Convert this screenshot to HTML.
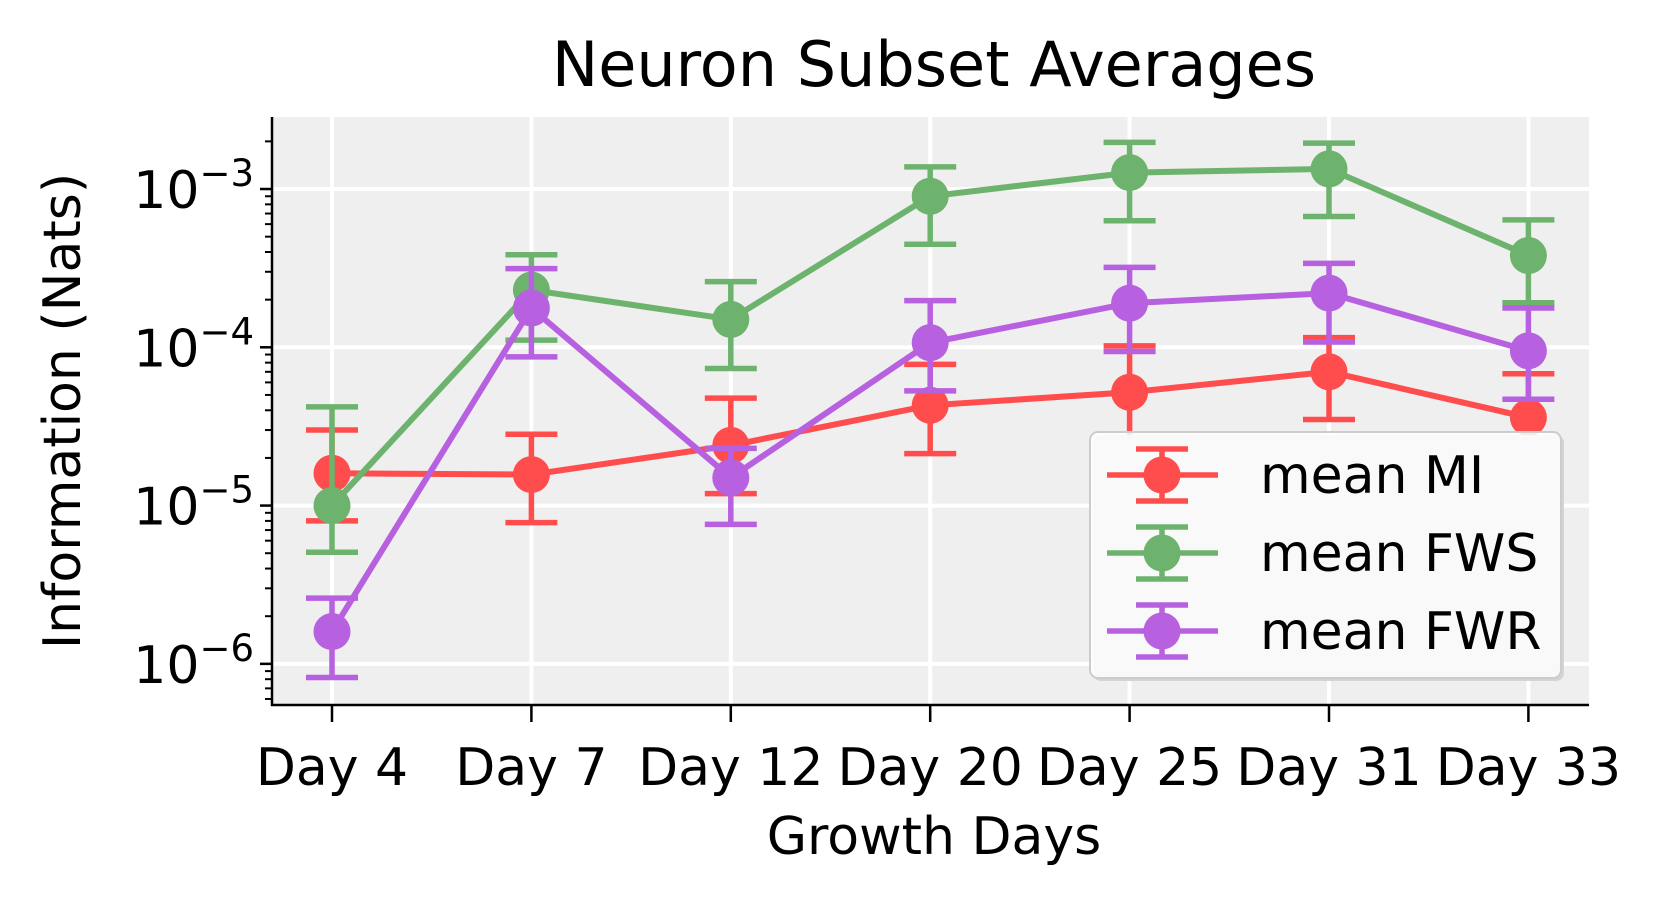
<!DOCTYPE html>
<html><head><meta charset="utf-8"><style>
html,body{margin:0;padding:0;background:#fff;}
svg{display:block;font-family:"DejaVu Sans","Liberation Sans",sans-serif;}
</style></head><body>
<svg id="chart" width="1660" height="900" viewBox="0 0 1660 900">
<rect x="0" y="0" width="1660" height="900" fill="#fff"/>
<rect id="plotbg" x="272" y="117" width="1317" height="588" fill="#efefef"/>
<g id="grid"></g>
<g id="series"></g>
<g id="axes"></g>
<text x="934" y="86" font-size="62" text-anchor="middle">Neuron Subset Averages</text>
<text x="934" y="854" font-size="52" text-anchor="middle">Growth Days</text>
<text transform="translate(80,411) rotate(-90)" font-size="52" text-anchor="middle">Information (Nats)</text>
<g id="legend"></g>
</svg>
<script>
const categories = ["Day 4","Day 7","Day 12","Day 20","Day 25","Day 31","Day 33"];
const seriesNames = ["mean MI","mean FWS","mean FWR"];
const miValues = [1.6e-5,1.57e-5,2.4e-5,4.3e-5,5.2e-5,7.0e-5,3.6e-5];
const miLow = [8.0e-6,7.8e-6,1.19e-5,2.13e-5,2.65e-5,3.5e-5,1.83e-5];
const miHigh = [3.0e-5,2.82e-5,4.77e-5,7.8e-5,1.02e-4,1.15e-4,6.8e-5];
const fwsValues = [1.0e-5,2.3e-4,1.5e-4,9.0e-4,1.27e-3,1.34e-3,3.8e-4];
const fwsLow = [5.07e-6,1.11e-4,7.35e-5,4.48e-4,6.3e-4,6.7e-4,1.91e-4];
const fwsHigh = [4.2e-5,3.84e-4,2.6e-4,1.38e-3,1.97e-3,1.95e-3,6.38e-4];
const fwrValues = [1.6e-6,1.77e-4,1.5e-5,1.07e-4,1.9e-4,2.2e-4,9.5e-5];
const fwrLow = [8.2e-7,8.7e-5,7.6e-6,5.3e-5,9.4e-5,1.08e-4,4.7e-5];
const fwrHigh = [2.6e-6,3.14e-4,2.3e-5,1.97e-4,3.2e-4,3.39e-4,1.77e-4];
const yTickExps = [-6,-5,-4,-3];

const NS="http://www.w3.org/2000/svg";
const L=272,R=1589,T=117,B=705;
const yMinLog=-6.26,yMaxLog=-2.545;
function xScale(i){return 332+i*199.4;}
function yScale(v){const lg=Math.log10(v);return B-(lg-yMinLog)/(yMaxLog-yMinLog)*(B-T);}
function mk(tag,attrs,parent){const e=document.createElementNS(NS,tag);for(const k in attrs)e.setAttribute(k,attrs[k]);parent.appendChild(e);return e;}
const grid=document.getElementById('grid'),axes=document.getElementById('axes'),ser=document.getElementById('series'),leg=document.getElementById('legend');

categories.forEach((c,i)=>{
  const x=xScale(i);
  const g=mk('line',{x1:x,x2:x,y1:T,y2:B,stroke:'#fff','stroke-width':4},grid);
  
  
  const t=mk('line',{x1:x,x2:x,y1:B,y2:B+17,stroke:'#000','stroke-width':2.5},axes);
  
  
  const lb=mk('text',{x:x,y:785,'font-size':52,'text-anchor':'middle'},axes);
  lb.textContent=c;
  
  
});
yTickExps.forEach(e=>{
  const y=yScale(Math.pow(10,e));
  const g=mk('line',{x1:L,x2:R,y1:y,y2:y,stroke:'#fff','stroke-width':4},grid);
  
  
  const t=mk('line',{x1:L-12,x2:L,y1:y,y2:y,stroke:'#000','stroke-width':2.5},axes);
  
  
  const lb=mk('text',{x:L-18,y:y+19,'font-size':52,'text-anchor':'end'},axes);
  
  
  const a=document.createElementNS(NS,'tspan');a.textContent='10';lb.appendChild(a);
  const b=document.createElementNS(NS,'tspan');b.setAttribute('dy','-22');b.setAttribute('font-size','37');b.textContent='\u2212'+(-e);lb.appendChild(b);
});
for(let e=-7;e<=-3;e++){for(let m=2;m<=9;m++){const v=m*Math.pow(10,e);const y=yScale(v);if(y<T||y>B)continue;
  const t=mk('line',{x1:L-7,x2:L,y1:y,y2:y,stroke:'#000','stroke-width':2},axes);
  
  }}
mk('line',{x1:L,x2:L,y1:T,y2:B+1,stroke:'#000','stroke-width':2.5},axes);
mk('line',{x1:L-1,x2:R,y1:B,y2:B,stroke:'#000','stroke-width':2.5},axes);

const colors=['#ff4d4d','#6db36d','#b760e0'];
const vals=[miValues,fwsValues,fwrValues],lows=[miLow,fwsLow,fwrLow],highs=[miHigh,fwsHigh,fwrHigh];
const keys=['mi','fws','fwr'];
vals.forEach((vs,s)=>{
  const g=mk('g',{},ser);
  
  
  vs.forEach((v,i)=>{
    const x=xScale(i),y1=yScale(lows[s][i]),y2=yScale(highs[s][i]);
    const e=mk('path',{d:`M${x},${y1}V${y2}M${x-26},${y1}H${x+26}M${x-26},${y2}H${x+26}`,stroke:colors[s],'stroke-width':5.5,fill:'none'},g);
    
    
  });
  const p=mk('polyline',{points:vs.map((v,i)=>xScale(i)+','+yScale(v)).join(' '),stroke:colors[s],'stroke-width':6,fill:'none'},g);
  
  
  vs.forEach((v,i)=>{
    const c=mk('circle',{cx:xScale(i),cy:yScale(v),r:18.5,fill:colors[s]},g);
    
    
  });
});

const LX=1096-6;
const sh=mk('rect',{x:LX+3,y:435,width:471,height:246,rx:8,fill:'#d4d4d4'},leg);


const box=mk('rect',{x:LX,y:432,width:471,height:246,rx:8,fill:'#fff','fill-opacity':0.85,stroke:'#ccc','stroke-width':2},leg);


seriesNames.forEach((n,s)=>{
  const y=475+s*78,cx=LX+72;
  const g=mk('g',{},leg);
  
  
  mk('path',{d:`M${LX+17},${y}H${LX+128}M${cx},${y-26}V${y+26}M${cx-26},${y-26}H${cx+26}M${cx-26},${y+26}H${cx+26}`,stroke:colors[s],'stroke-width':5.5,fill:'none'},g);
  mk('circle',{cx:cx,cy:y,r:18.5,fill:colors[s]},g);
  const t=mk('text',{x:LX+170,y:y+18,'font-size':52},g);
  t.textContent=n;
});
</script>
</body></html>
